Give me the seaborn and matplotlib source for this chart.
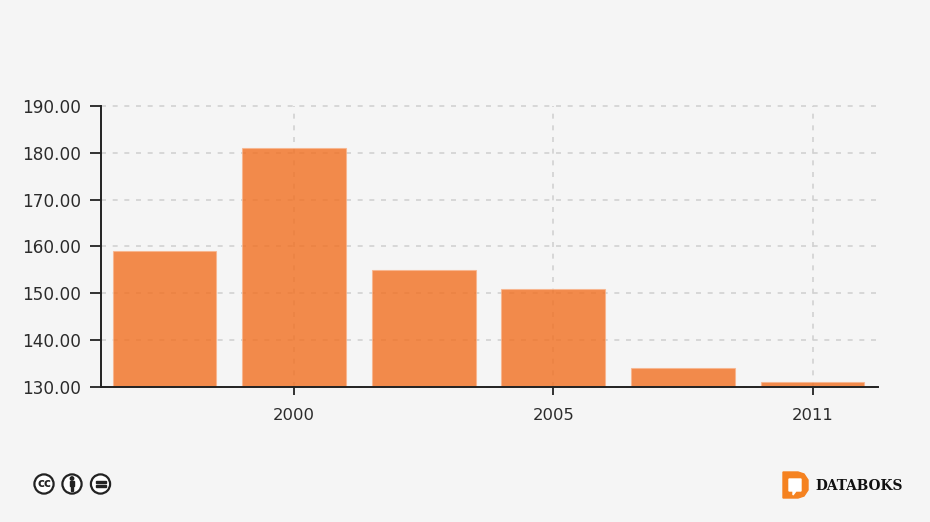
import matplotlib
matplotlib.use("Agg")
import matplotlib.pyplot as plt
import seaborn as sns
import pandas as pd
from matplotlib.patches import Circle, Polygon, Rectangle

##### Data #####
years = ["1998", "2000", "2003", "2005", "2008", "2011"]
values = [159, 181, 155, 151, 134, 131]
shown_years = ["2000", "2005", "2011"]
y_ticks = [130, 140, 150, 160, 170, 180, 190]

##### Settings #####
background = "#F5F5F5"
bar_color = "#F26F21"
grid_color = "#D2D2D2"
text_color = "#2B2B2B"

sns.set_theme(style="ticks")
plt.rcParams["font.family"] = ["DejaVu Sans"]

W, H = 930, 522
fig = plt.figure(figsize=(W / 100, H / 100), dpi=100, facecolor=background)
ax = fig.add_axes([101 / W, 1 - 387 / H, 777 / W, 281 / H], facecolor=background)

##### Bars #####
df = pd.DataFrame({"year": years, "value": values})
sns.barplot(data=df, x="year", y="value", color=bar_color, alpha=0.8, width=0.8,
            saturation=1, edgecolor="#F9B48C", linewidth=0.8, ax=ax)

ax.set_xlim(-0.49, 5.505)
ax.set_ylim(130, 190)
ax.set_xlabel("")
ax.set_ylabel("")

# only every other year gets a tick
ax.set_xticks([years.index(y) for y in shown_years])
ax.set_xticklabels(shown_years)
ax.set_yticks(y_ticks)
ax.set_yticklabels([f"{v:.2f}" for v in y_ticks])
ax.tick_params(axis="y", length=8, width=1.3, color="#222222", pad=6.5, labelsize=12.2, labelcolor=text_color)
ax.tick_params(axis="x", length=5.8, width=1.3, color="#222222", pad=9.4, labelsize=11.8, labelcolor=text_color)

# Dashed grid, seen through the bars
ax.set_axisbelow(True)
ax.grid(True, color=grid_color, linestyle=(0, (3, 4)), linewidth=1.2)
for line in ax.get_xgridlines() + ax.get_ygridlines():
    line.set_clip_on(False)

sns.despine(ax=ax)
for side in ["left", "bottom"]:
    ax.spines[side].set_linewidth(1.4)
    ax.spines[side].set_color("#222222")

##### Footer icons and logo, in pixel coordinates #####
over = fig.add_axes([0, 0, 1, 1])
over.set_xlim(0, W)
over.set_ylim(H, 0)
over.axis("off")

for cx in [44, 72, 100.5]:
    over.add_patch(Circle((cx, 484), 9.6, facecolor="white", edgecolor="#222222", linewidth=1.6))

over.text(44, 483.5, "cc", ha="center", va="center", fontsize=8.5, fontweight="bold", color="#222222")

over.add_patch(Circle((72, 478.5), 1.7, color="#222222"))
over.add_patch(Rectangle((69.7, 481), 4.6, 5, color="#222222"))
over.add_patch(Rectangle((70.7, 486), 2.6, 4.5, color="#222222"))

over.add_patch(Rectangle((95.5, 480.7), 10, 2, color="#222222"))
over.add_patch(Rectangle((95.5, 485.3), 10, 2, color="#222222"))

over.add_patch(Polygon([(783, 472), (798, 472), (804, 474), (808, 480), (808, 490), (804, 496),
                        (798, 498), (783, 498)], closed=True, color="#F58220"))
over.add_patch(Polygon([(789, 479), (801, 479), (801, 491), (796, 491), (793, 495), (793, 491),
                        (789, 491)], closed=True, color="white"))
over.text(815, 485.5, "DATABOKS", ha="left", va="center", fontsize=9.9, fontweight="bold",
          family="DejaVu Serif", color="#111111")

fig.savefig("out.png", dpi=100, facecolor=background)
